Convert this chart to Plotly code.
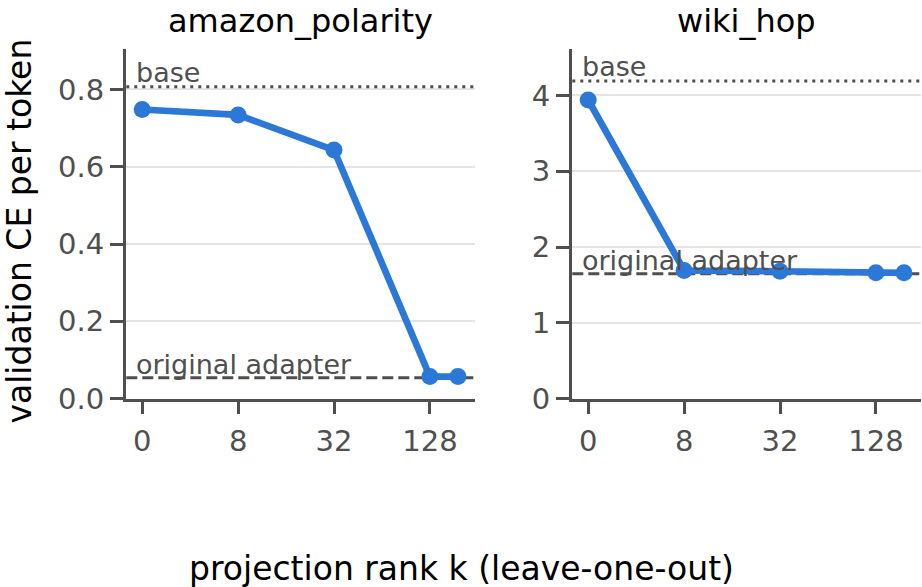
import math
import plotly.graph_objects as go

# ---- data ----
ranks = [0, 8, 32, 128, 192]
tick_ranks = [0, 8, 32, 128]
tick_labels = ["0", "8", "32", "128"]

amazon_ce = [0.748, 0.734, 0.643, 0.057, 0.057]
amazon_base = 0.807
amazon_orig = 0.054

wiki_ce = [3.94, 1.69, 1.68, 1.66, 1.66]
wiki_base = 4.19
wiki_orig = 1.647

titles = ["amazon_polarity", "wiki_hop"]

# ---- styling ----
W, H = 922, 587
HE = 571  # effective vertical pixel scale observed in rendering
FONT = "DejaVu Sans"
BLUE = "#2b78d6"
GREY = "#4f4f4f"
GRID = "#e4e4e4"


def sym(k):
    # symmetric-log (base 4 beyond linear threshold 8) position
    return k / 8 if k <= 8 else 1 + math.log(k / 8) / math.log(4)


def py(p):
    return 1 - p / HE


xpos = [sym(k) for k in ranks]
xtick = [sym(k) for k in tick_ranks]

fig = go.Figure()

dom_x = [[125.7 / W, 475 / W], [571.7 / W, 921 / W]]
dom_y = [py(399.3), py(49.3)]

series = [(amazon_ce, amazon_base, amazon_orig, [0, 0.904], [0, 0.2, 0.4, 0.6, 0.8], "0.1f"),
          (wiki_ce, wiki_base, wiki_orig, [0, 4.61], [0, 1, 2, 3, 4], "d")]

for i, (ys, base, orig, yr, yt, fmt) in enumerate(series):
    xa = "x" if i == 0 else "x2"
    ya = "y" if i == 0 else "y2"
    # reference lines
    fig.add_trace(go.Scatter(x=[-1, 5], y=[base, base], mode="lines", xaxis=xa, yaxis=ya,
                             line=dict(color=GREY, width=3, dash="3px,5px"), showlegend=False,
                             hoverinfo="skip"))
    fig.add_trace(go.Scatter(x=[-1, 5], y=[orig, orig], mode="lines", xaxis=xa, yaxis=ya,
                             line=dict(color=GREY, width=3, dash="11px,5px"), showlegend=False,
                             hoverinfo="skip"))
    fig.add_trace(go.Scatter(x=xpos, y=ys, mode="lines+markers", xaxis=xa, yaxis=ya,
                             line=dict(color=BLUE, width=6.7),
                             marker=dict(color=BLUE, size=17), showlegend=False,
                             cliponaxis=False))
    axis_common = dict(showline=True, linecolor=GREY, linewidth=2.5, ticks="outside",
                       ticklen=13, tickwidth=2.5, tickcolor=GREY,
                       tickfont=dict(family=FONT, size=29, color=GREY), zeroline=False)
    xkey = "xaxis" if i == 0 else "xaxis2"
    ykey = "yaxis" if i == 0 else "yaxis2"
    fig.update_layout(**{
        xkey: dict(domain=dom_x[i], range=[-0.172, 3.47], tickvals=xtick, ticktext=tick_labels,
                   showgrid=False, anchor=ya, ticklabelstandoff=2, **axis_common),
        ykey: dict(domain=dom_y, range=yr, tickvals=yt, tickformat=fmt, showgrid=True,
                   gridcolor=GRID, gridwidth=1.5, anchor=xa, ticksuffix="\u00a0",
                   **axis_common),
    })
    xdom = "x domain" if i == 0 else "x2 domain"
    fig.add_annotation(x=0.024, y=base, xref=xdom, yref=ya, text="base", showarrow=False,
                       xanchor="left", yanchor="bottom", yshift=-3,
                       font=dict(family=FONT, size=27, color=GREY))
    fig.add_annotation(x=0.024, y=orig, xref=xdom, yref=ya, text="original adapter",
                       showarrow=False, xanchor="left", yanchor="bottom", yshift=-4,
                       font=dict(family=FONT, size=27, color=GREY))
    fig.add_annotation(x=(dom_x[i][0] + dom_x[i][1]) / 2, y=py(21), xref="paper", yref="paper",
                       text=titles[i], showarrow=False, xanchor="center", yanchor="middle",
                       font=dict(family=FONT, size=32, color="black"))

fig.add_annotation(x=20 / W, y=py(232), xref="paper", yref="paper",
                   text="validation CE per token", textangle=-90, showarrow=False,
                   xanchor="center", yanchor="middle",
                   font=dict(family=FONT, size=33, color="black"))
fig.add_annotation(x=461 / W, y=py(569), xref="paper", yref="paper",
                   text="projection rank k (leave-one-out)", showarrow=False,
                   xanchor="center", yanchor="middle",
                   font=dict(family=FONT, size=33, color="black"))

fig.update_layout(width=W, height=H, margin=dict(l=0, r=0, t=0, b=0),
                  plot_bgcolor="white", paper_bgcolor="white",
                  font=dict(family=FONT))

fig.write_html("out.html")
